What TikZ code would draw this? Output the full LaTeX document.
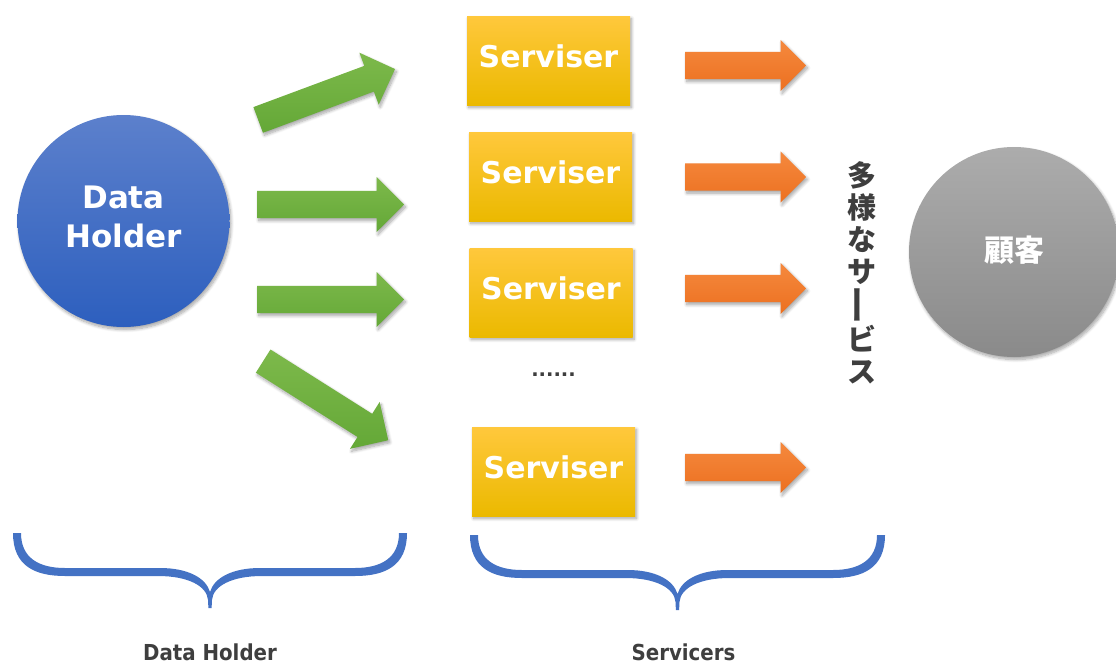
\documentclass[tikz,border=0pt]{standalone}
\usepackage{fontspec}
\usepackage{graphicx}
\usetikzlibrary{shapes.arrows,shadows.blur}
\newfontfamily\latinfont{DejaVu Sans}
\newfontfamily\condfont{DejaVu Sans Condensed}
\newfontfamily\jpfont{Noto Sans CJK JP}

\definecolor{dhtop}{RGB}{92,128,204}
\definecolor{dhbot}{RGB}{45,95,190}
\definecolor{cltop}{RGB}{172,172,172}
\definecolor{clbot}{RGB}{138,138,138}
\definecolor{ytop}{RGB}{255,200,60}
\definecolor{ybot}{RGB}{235,185,0}
\definecolor{gtop}{RGB}{125,185,75}
\definecolor{gbot}{RGB}{100,168,55}
\definecolor{otop}{RGB}{245,137,62}
\definecolor{obot}{RGB}{236,112,32}
\definecolor{bracecol}{RGB}{68,114,196}
\definecolor{inkgray}{RGB}{62,62,62}

% curly brace: #1 left x, #2 right x, #3 vertical offset
\newcommand\curlybrace[3]{%
  \pgfmathsetmacro\bl{#1}%
  \pgfmathsetmacro\br{#2}%
  \pgfmathsetmacro\bm{(#1+#2)/2}%
  \begin{scope}[yshift=-#3pt]
  \fill[bracecol] (\bl,533) .. controls (\bl,566) and (\bl+22,576) .. (\bl+52,576)
    -- (\bm-52,576) .. controls (\bm-22,576) and (\bm-3,586) .. (\bm-2,600)
    -- (\bm-1.6,608) -- (\bm+1.6,608) -- (\bm+2,600)
    .. controls (\bm+3,586) and (\bm+22,576) .. (\bm+52,576)
    -- (\br-52,576) .. controls (\br-22,576) and (\br,566) .. (\br,533)
    -- (\br-8,533) .. controls (\br-8,558) and (\br-26,568) .. (\br-52,568)
    -- (\bm+50,568) .. controls (\bm+22,568) and (\bm+4,578) .. (\bm,592)
    .. controls (\bm-4,578) and (\bm-22,568) .. (\bm-50,568)
    -- (\bl+52,568) .. controls (\bl+26,568) and (\bl+8,558) .. (\bl+8,533) -- cycle;
  \end{scope}}

\tikzset{
  softshadow/.style={blur shadow={shadow xshift=1.5pt, shadow yshift=-2.5pt,
      shadow blur radius=3pt, shadow blur steps=8, shadow opacity=35}},
  holder/.style={circle, minimum size=212pt, inner sep=0pt,
      top color=dhtop, bottom color=dhbot, text=white, align=center,
      font=\latinfont\bfseries\fontsize{31}{39}\selectfont, text depth=8pt, softshadow},
  client/.style={circle, minimum size=210pt, inner sep=0pt,
      top color=cltop, bottom color=clbot, text=white,
      font=\jpfont\bfseries\fontsize{30}{32}\selectfont, text depth=6pt, softshadow},
  servbox/.style={rectangle, minimum width=163pt, minimum height=89pt, inner sep=0pt,
      top color=ytop, bottom color=ybot, text=white,
      font=\latinfont\bfseries\fontsize{30}{32}\selectfont, text depth=9pt, softshadow},
  garrow/.style={single arrow, single arrow head extend=14pt, single arrow tip angle=90,
      inner xsep=0pt, inner ysep=13.5pt, minimum height=147pt, anchor=tail,
      top color=gtop, bottom color=gbot, softshadow},
  oarrow/.style={single arrow, single arrow head extend=12pt, single arrow tip angle=90,
      inner xsep=0pt, inner ysep=13.5pt, minimum height=121pt, anchor=tail,
      top color=otop, bottom color=obot, softshadow},
  caption/.style={text=inkgray, anchor=base,
      font=\condfont\bfseries\fontsize{22}{24}\selectfont},
}

\begin{document}
\begin{tikzpicture}[x=1pt,y=-1pt]
  \useasboundingbox (0,0) rectangle (1116,664);

  % data holder
  \node[holder] (dh) at (123.5,221) {Data\\Holder};

  % flows out of the data holder
  \node[garrow, rotate=20.4, minimum height=146pt] (g1) at (258,120) {};
  \node[garrow] (g2) at (257,204.5) {};
  \node[garrow] (g3) at (257,299.5) {};
  \node[garrow, rotate=-32.3, minimum height=148pt] (g4) at (263,361) {};

  % servicers
  \node[servbox] (s1) at (548.5,60.5) {Serviser};
  \node[servbox] (s2) at (550.5,176.5) {Serviser};
  \node[servbox] (s3) at (551,292.5) {Serviser};
  \node[servbox] (s4) at (553.5,471.5) {Serviser};
  \node[text=inkgray, font=\latinfont\bfseries\fontsize{19.5}{20}\selectfont,
        inner sep=0pt] (dots) at (553.5,375) {......};

  % services handed on
  \node[oarrow] (o1) at (685,65.5) {};
  \node[oarrow] (o2) at (685,177) {};
  \node[oarrow] (o3) at (685,288.5) {};
  \node[oarrow] (o4) at (685,467.5) {};

  % vertical label; the long vowel mark is turned upright
  \node[text=inkgray, align=center, inner sep=0pt,
        font=\jpfont\bfseries\fontsize{29}{32}\selectfont] (svc) at (862,273)
    {多\\様\\な\\サ\\\raisebox{0.2em}{\rotatebox[origin=c]{90}{\scalebox{1.35}[1]{ー}}}\\ビ\\ス};

  % customer
  \node[client] (cl) at (1014,252) {顧客};

  % grouping braces and captions
  \curlybrace{13}{407}{0}
  \curlybrace{470}{885}{2}
  \node[caption] (capdh) at (210,660) {Data Holder};
  \node[caption] (capsv) at (683.5,660) {Servicers};
\end{tikzpicture}
\end{document}
